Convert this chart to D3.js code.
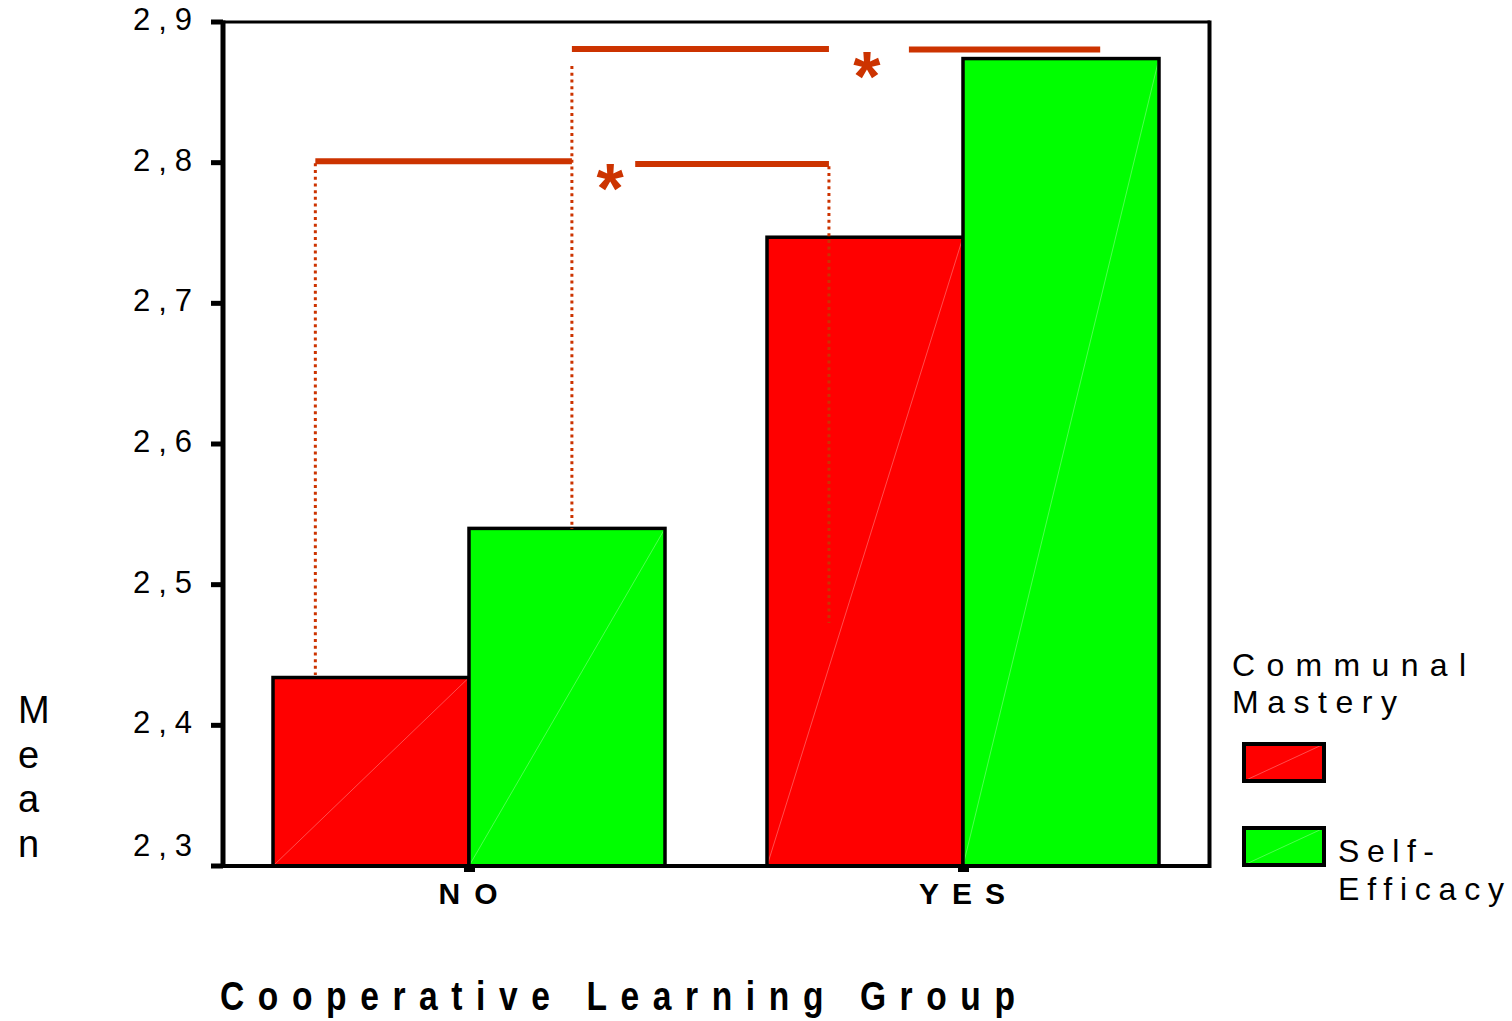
<!DOCTYPE html>
<html>
<head>
<meta charset="utf-8">
<script src="https://cdn.jsdelivr.net/npm/d3@7"></script>
<style>
  body { margin: 0; background: #fff; }
  svg { display: block; }
  text { font-family: "Liberation Sans", Arial, sans-serif; fill: #000; }
</style>
</head>
<body>
<div id="graf"></div>
<script>
// datos
const categorias = ["NO", "YES"]
const series = ["Communal Mastery", "Self-Efficacy"]
const communal = [2.434, 2.747]
const selfEfficacy = [2.540, 2.874]
const yTicks = [2.3, 2.4, 2.5, 2.6, 2.7, 2.8, 2.9]
const yTickLabels = ["2,3", "2,4", "2,5", "2,6", "2,7", "2,8", "2,9"]

// anotaciones: [categoria, serie, fraccion dentro de la barra]
const tramos = [
  { de: ["NO", 0, 0.216], a: ["NO", 1, 0.525], nivel: 2.801 },
  { de: ["NO", 1, 0.848], a: ["YES", 0, 0.316], nivel: 2.799 },
  { de: ["NO", 1, 0.525], a: ["YES", 0, 0.316], nivel: 2.8808 },
  { de: ["YES", 0, 0.724], a: ["YES", 1, 0.70], nivel: 2.8805 },
]
const punteadas = [
  { en: ["NO", 0, 0.216], desde: 2.7995, hasta: 2.4358 },
  { en: ["YES", 0, 0.316], desde: 2.7975, hasta: 2.4727 },
  { en: ["NO", 1, 0.525], desde: 2.8687, hasta: 2.5395 },
]
const asteriscos = [
  { en: ["NO", 1, 0.72], nivel: 2.7923 },
  { en: ["YES", 0, 0.51], nivel: 2.8723 },
]

const colores = ["#ff0000", "#00ff00"]
const rojoAnot = "#cc3300"

const anchoTotal = 1512
const altoTotal = 1021
const plot = { left: 222, right: 1210, top: 22, bottom: 866 }

const svg = d3.select("#graf")
  .append("svg")
  .attr("width", anchoTotal)
  .attr("height", altoTotal)

const x0 = d3.scaleBand()
  .domain(categorias)
  .range([plot.left, plot.right])
  .paddingInner(0.2065)
  .paddingOuter(0.2065 / 2)

const x1 = d3.scaleBand()
  .domain(d3.range(series.length))
  .range([0, x0.bandwidth()])

const y = d3.scaleLinear().domain([2.3, 2.9]).range([plot.bottom, plot.top])

const px = ([cat, s, f]) => x0(cat) + x1(s) + f * x1.bandwidth()

const filas = categorias.map((c, i) => ({ cat: c, vals: [communal[i], selfEfficacy[i]] }))

// marco
svg.append("line")
  .attr("x1", plot.left).attr("x2", plot.right)
  .attr("y1", plot.top).attr("y2", plot.top)
  .attr("stroke", "#000").attr("stroke-width", 3)
svg.append("line")
  .attr("x1", plot.right - 0.5).attr("x2", plot.right - 0.5)
  .attr("y1", plot.top - 1.5).attr("y2", plot.bottom + 2)
  .attr("stroke", "#000").attr("stroke-width", 4)

// barras
const grupos = svg.selectAll("g.grupo")
  .data(filas)
  .enter()
  .append("g")
  .attr("class", "grupo")
  .attr("transform", (d) => `translate(${x0(d.cat)},0)`)

const barras = grupos.selectAll("g.barra")
  .data((d) => d.vals.map((v, i) => ({ v, i })))
  .enter()
  .append("g")
  .attr("class", "barra")

barras.append("rect")
  .attr("x", (d) => x1(d.i))
  .attr("y", (d) => y(d.v))
  .attr("width", x1.bandwidth())
  .attr("height", (d) => plot.bottom - y(d.v))
  .attr("fill", (d) => colores[d.i])

barras.append("line")
  .attr("x1", (d) => x1(d.i))
  .attr("y1", plot.bottom)
  .attr("x2", (d) => x1(d.i) + x1.bandwidth())
  .attr("y2", (d) => y(d.v))
  .attr("stroke", "#fff")
  .attr("stroke-opacity", 0.3)
  .attr("stroke-width", 1)

barras.append("rect")
  .attr("x", (d) => x1(d.i))
  .attr("y", (d) => y(d.v))
  .attr("width", x1.bandwidth())
  .attr("height", (d) => plot.bottom - y(d.v))
  .attr("fill", "none")
  .attr("stroke", "#000")
  .attr("stroke-width", 3.5)

// eje y
svg.append("line")
  .attr("x1", plot.left + 1).attr("x2", plot.left + 1)
  .attr("y1", plot.top - 1.5).attr("y2", plot.bottom + 2)
  .attr("stroke", "#000").attr("stroke-width", 5)

svg.selectAll("rect.ytick")
  .data(yTicks)
  .enter()
  .append("rect")
  .attr("class", "ytick")
  .attr("x", plot.left - 11)
  .attr("y", (d) => y(d) - 2.5)
  .attr("width", 12)
  .attr("height", 5)
  .attr("fill", "#000")

svg.selectAll("text.ytick")
  .data(yTicks)
  .enter()
  .append("text")
  .attr("class", "ytick")
  .attr("x", 133)
  .attr("y", (d, i) => (i === 0 ? y(d) - 10 : y(d) + 8))
  .attr("font-size", 31)
  .attr("textLength", 59)
  .attr("lengthAdjust", "spacing")
  .text((d, i) => yTickLabels[i])

// eje x
svg.append("line")
  .attr("x1", plot.left).attr("x2", plot.right)
  .attr("y1", plot.bottom).attr("y2", plot.bottom)
  .attr("stroke", "#000").attr("stroke-width", 4)

svg.selectAll("rect.xtick")
  .data(categorias)
  .enter()
  .append("rect")
  .attr("class", "xtick")
  .attr("x", (d) => x0(d) + x0.bandwidth() / 2 - 5)
  .attr("y", plot.bottom)
  .attr("width", 11)
  .attr("height", 6)
  .attr("fill", "#000")

const anchoEtq = { NO: 59, YES: 86 }
svg.selectAll("text.xlab")
  .data(categorias)
  .enter()
  .append("text")
  .attr("class", "xlab")
  .attr("x", (d) => x0(d) + x0.bandwidth() / 2 - 1)
  .attr("y", 904)
  .attr("text-anchor", "middle")
  .attr("font-size", 30)
  .attr("font-weight", "bold")
  .attr("textLength", (d) => anchoEtq[d])
  .attr("lengthAdjust", "spacing")
  .text((d) => d)

// titulo eje x, comprimido a lo ancho como en el original
svg.append("g")
  .attr("transform", "translate(220, 1010) scale(0.84, 1)")
  .append("text")
  .attr("x", 0)
  .attr("y", 0)
  .attr("font-size", 40)
  .attr("font-weight", "bold")
  .attr("textLength", 795 / 0.84)
  .attr("lengthAdjust", "spacing")
  .text("Cooperative Learning Group")

// titulo eje y, letra por letra
svg.selectAll("text.ylab")
  .data("Mean".split(""))
  .enter()
  .append("text")
  .attr("class", "ylab")
  .attr("x", 18)
  .attr("y", (d, i) => 723 + i * 44.7)
  .attr("font-size", 38)
  .text((d) => d)

// anotaciones
svg.selectAll("line.punteada")
  .data(punteadas)
  .enter()
  .append("line")
  .attr("class", "punteada")
  .attr("x1", (d) => px(d.en))
  .attr("x2", (d) => px(d.en))
  .attr("y1", (d) => y(d.desde))
  .attr("y2", (d) => y(d.hasta))
  .attr("stroke", rojoAnot)
  .attr("stroke-width", 3)
  .attr("stroke-dasharray", "3 3.7")

svg.selectAll("line.tramo")
  .data(tramos)
  .enter()
  .append("line")
  .attr("class", "tramo")
  .attr("x1", (d) => px(d.de))
  .attr("x2", (d) => px(d.a))
  .attr("y1", (d) => y(d.nivel))
  .attr("y2", (d) => y(d.nivel))
  .attr("stroke", rojoAnot)
  .attr("stroke-width", 6)

svg.selectAll("text.ast")
  .data(asteriscos)
  .enter()
  .append("text")
  .attr("class", "ast")
  .attr("x", (d) => px(d.en))
  .attr("y", (d) => y(d.nivel) + 40)
  .attr("text-anchor", "middle")
  .attr("font-size", 70)
  .attr("font-weight", "bold")
  .style("fill", rojoAnot)
  .text("*")

// leyenda
const leg = svg.append("g")
leg.append("text").attr("x", 1232).attr("y", 676).attr("font-size", 32)
  .attr("textLength", 234).attr("lengthAdjust", "spacing").text("Communal")
leg.append("text").attr("x", 1232).attr("y", 713).attr("font-size", 32)
  .attr("textLength", 165).attr("lengthAdjust", "spacing").text("Mastery")

const cajas = leg.selectAll("g.caja")
  .data(series)
  .enter()
  .append("g")
  .attr("class", "caja")
  .attr("transform", (d, i) => `translate(1244, ${744 + i * 84})`)

cajas.append("rect")
  .attr("width", 80).attr("height", 37)
  .attr("fill", (d, i) => colores[i])
cajas.append("line")
  .attr("x1", 0).attr("y1", 37).attr("x2", 80).attr("y2", 0)
  .attr("stroke", "#fff").attr("stroke-opacity", 0.3).attr("stroke-width", 1)
cajas.append("rect")
  .attr("width", 80).attr("height", 37)
  .attr("fill", "none").attr("stroke", "#000").attr("stroke-width", 4)

leg.append("text").attr("x", 1338).attr("y", 862).attr("font-size", 32)
  .attr("textLength", 96).attr("lengthAdjust", "spacing").text("Self-")
leg.append("text").attr("x", 1338).attr("y", 900).attr("font-size", 32)
  .attr("textLength", 166).attr("lengthAdjust", "spacing").text("Efficacy")
</script>
</body>
</html>
